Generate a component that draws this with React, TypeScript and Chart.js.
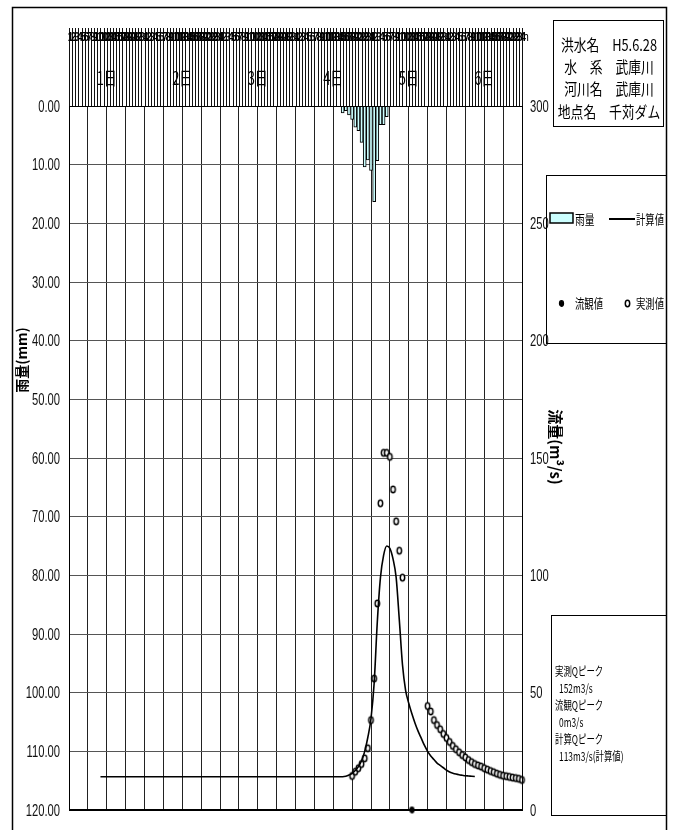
import React, { useEffect, useRef } from 'react';
import { Chart, registerables } from 'chart.js';
Chart.register(...registerables);

// ---- data ----
const rainHours = [87, 88, 89, 90, 91, 92, 93, 94, 95, 96, 97, 98, 99, 100, 101];
const rainMm = [1.2, 0.8, 1.5, 2.3, 3.6, 4.2, 6.2, 10.4, 9.2, 11.0, 16.3, 9.3, 3.2, 3.2, 1.8];

const calcHours = [10, 86, 87, 88, 89, 90, 91, 92, 93, 94, 95, 96, 97, 98, 99, 100, 101, 102, 103, 104, 105, 106, 107, 108, 109, 110, 111, 112, 113, 114, 115, 116, 117, 118, 119, 120, 121, 122, 123, 124, 125, 126, 127, 128, 129];
const calcQ = [14.2, 14.2, 14.2, 14.4, 14.9, 15.6, 16.8, 18.5, 21, 25, 31, 39, 54, 80, 99, 108.5, 112.5, 111.5, 107, 99, 81, 62, 51, 45.5, 41, 37, 33.5, 30.5, 27.5, 25, 23, 21.5, 20, 19, 18, 17, 16.2, 15.7, 15.3, 15, 14.8, 14.6, 14.5, 14.4, 14.3];

const obsHours = [90, 91, 92, 93, 94, 95, 96, 97, 98, 99, 100, 101, 102, 103, 104, 105, 106,
  114, 115, 116, 117, 118, 119, 120, 121, 122, 123, 124, 125, 126, 127, 128, 129, 130, 131, 132, 133, 134, 135, 136, 137, 138, 139, 140, 141, 142, 143, 144];
const obsQ = [14.5, 16.3, 17.8, 19.6, 22, 26.3, 38.3, 56, 88, 130.7, 152.2, 152.2, 150.5, 136.6, 123, 110.5, 99,
  44.3, 42, 38.3, 36.2, 34.4, 32.4, 30.7, 29, 27.3, 25.9, 24.6, 23.4, 22.4, 21.3, 20.4, 19.6, 19.0, 18.5, 17.8, 17.2, 16.6, 16.1, 15.5, 15.0, 14.6, 14.4, 14.1, 13.8, 13.6, 13.3, 12.8];

const ryukanHours = [109];
const ryukanQ = [0];

const dayLabels = ['1日', '2日', '3日', '4日', '5日', '6日'];
const infoLines = ['洪水名　H5.6.28', '水　系　武庫川', '河川名　武庫川', '地点名　千苅ダム'];
const peakLines = ['実測Qピーク', '  152m3/s', '流観Qピーク', '  0m3/s', '計算Qピーク', '  113m3/s(計算値)'];

const FONT_L = "'Liberation Sans',Arial,sans-serif";
const FONT_J = "'Noto Sans CJK JP','Noto Sans',sans-serif";

function makeEllipse(rx: number, ry: number, lw: number, fill: string, stroke: string) {
  const c = document.createElement('canvas');
  const w = Math.ceil(2 * rx + lw + 2) | 1;
  const h = Math.ceil(2 * ry + lw + 2) | 1;
  c.width = w; c.height = h;
  const g = c.getContext('2d')!;
  g.beginPath();
  g.ellipse(w / 2, h / 2, rx, ry, 0, 0, Math.PI * 2);
  g.fillStyle = fill; g.fill();
  g.lineWidth = lw; g.strokeStyle = stroke; g.stroke();
  return c;
}

function txt(ctx: CanvasRenderingContext2D, s: string, x: number, y: number, font: string, sx = 1, align: CanvasTextAlign = 'left', rot = 0, color = '#000') {
  ctx.save();
  ctx.translate(x, y);
  if (rot) ctx.rotate(rot);
  ctx.scale(sx, 1);
  ctx.font = font;
  ctx.textAlign = align;
  ctx.textBaseline = 'middle';
  ctx.fillStyle = color;
  ctx.fillText(s, 0, 0);
  ctx.restore();
}

export default function App() {
  const ref = useRef<HTMLCanvasElement>(null);
  useEffect(() => {
    const canvas = ref.current!;
    const openPt = makeEllipse(2.2, 3.2, 1.5, '#fff', '#000');
    const fillPt = makeEllipse(2.0, 2.8, 1.3, '#000', '#000');

    const decor = {
      id: 'decor',
      afterDraw(chart: any) {
        const ctx: CanvasRenderingContext2D = chart.ctx;
        const ca = chart.chartArea;
        const xs = chart.scales.x;
        const yr = chart.scales.yRain;
        const yf = chart.scales.yFlow;
        ctx.save();
        // header hourly lines
        ctx.strokeStyle = '#111';
        ctx.lineWidth = 1;
        for (let h = 0; h <= 144; h++) {
          const x = Math.round(xs.getPixelForValue(h)) + 0.5;
          ctx.beginPath(); ctx.moveTo(x, 28); ctx.lineTo(x, ca.top); ctx.stroke();
        }
        // hour labels
        for (let h = 1; h <= 144; h++) {
          const x = xs.getPixelForValue(h - 0.5);
          txt(ctx, String(((h - 1) % 24) + 1), x, 37, `bold 13px ${FONT_L}`, 0.75, 'center');
        }
        txt(ctx, 'h', ca.right + 1, 37, `13px ${FONT_L}`, 0.8, 'left');
        // day labels
        dayLabels.forEach((d, i) => {
          const x = xs.getPixelForValue(i * 24 + 12);
          txt(ctx, d, x, 78, `18px ${FONT_J}`, 0.72, 'center');
        });
        // tick labels (from the library's scales)
        yr.ticks.forEach((t: any) => {
          const y = yr.getPixelForValue(t.value);
          txt(ctx, Number(t.value).toFixed(2), ca.left - 9, y + 1, `17px ${FONT_L}`, 0.66, 'right', 0, '#111');
        });
        yf.ticks.forEach((t: any) => {
          const y = yf.getPixelForValue(t.value);
          txt(ctx, String(t.value), ca.right + 8, y + 1, `17px ${FONT_L}`, 0.66, 'left', 0, '#111');
        });
        // plot border
        ctx.lineWidth = 1;
        ctx.strokeStyle = '#000';
        ctx.strokeRect(Math.round(ca.left) + 0.5, Math.round(ca.top) + 0.5, Math.round(ca.right - ca.left), Math.round(ca.bottom - ca.top));
        ctx.lineWidth = 2;
        ctx.beginPath(); ctx.moveTo(ca.left, ca.bottom); ctx.lineTo(ca.right, ca.bottom); ctx.stroke();
        // outer border
        ctx.lineWidth = 1.5;
        ctx.beginPath();
        ctx.moveTo(12.5, 900); ctx.lineTo(12.5, 7.5); ctx.lineTo(666.5, 7.5); ctx.lineTo(666.5, 900);
        ctx.stroke();
        // axis titles
        txt(ctx, '雨量(mm)', 22, 360, `bold 14px ${FONT_J}`, 1, 'center', -Math.PI / 2);
        txt(ctx, '流量(m³/s)', 556, 447, `bold 15px ${FONT_J}`, 1, 'center', Math.PI / 2);
        // info box
        ctx.lineWidth = 1;
        ctx.strokeRect(553.5, 20.5, 110, 106);
        infoLines.forEach((s, i) => {
          txt(ctx, s, 609, 45 + i * 22.2, `16px ${FONT_J}`, 0.8, 'center');
        });
        // legend box
        ctx.strokeRect(546.5, 175.5, 120, 168);
        ctx.fillStyle = '#ccffff';
        ctx.fillRect(550, 213, 23, 10);
        ctx.lineWidth = 1.5;
        ctx.strokeStyle = '#000';
        ctx.strokeRect(550, 213, 23, 10);
        txt(ctx, '雨量', 575, 219, `13px ${FONT_J}`, 0.75, 'left');
        ctx.lineWidth = 2;
        ctx.beginPath(); ctx.moveTo(609, 219); ctx.lineTo(635, 219); ctx.stroke();
        txt(ctx, '計算値', 636, 219, `13px ${FONT_J}`, 0.72, 'left');
        ctx.drawImage(fillPt, Math.round(561 - fillPt.width / 2), Math.round(303 - fillPt.height / 2));
        txt(ctx, '流観値', 575, 303, `13px ${FONT_J}`, 0.72, 'left');
        ctx.drawImage(openPt, Math.round(627 - openPt.width / 2), Math.round(303 - openPt.height / 2));
        txt(ctx, '実測値', 636, 303, `13px ${FONT_J}`, 0.72, 'left');
        // peak box
        ctx.lineWidth = 1;
        ctx.strokeRect(551.5, 615.5, 115, 200);
        peakLines.forEach((s, i) => {
          const indent = s.startsWith('  ');
          txt(ctx, s.trim(), indent ? 559 : 555, 671 + i * 17.1, `12px ${FONT_J}`, 0.7, 'left');
        });
        ctx.restore();
      },
    };

    const chart = new Chart(canvas, {
      type: 'bar',
      data: {
        datasets: [
          {
            type: 'bar',
            label: '雨量',
            xAxisID: 'x',
            yAxisID: 'yRain',
            data: rainHours.map((h, i) => ({ x: h, y: rainMm[i] })),
            backgroundColor: '#ccffff',
            borderColor: '#000',
            borderWidth: 1,
            barThickness: 3,
            grouped: false,
          } as any,
          {
            type: 'line',
            label: '計算値',
            xAxisID: 'x',
            yAxisID: 'yFlow',
            data: calcHours.map((h, i) => ({ x: h, y: calcQ[i] })),
            borderColor: '#000',
            borderWidth: 1.6,
            pointRadius: 0,
            cubicInterpolationMode: 'monotone',
            fill: false,
          } as any,
          {
            type: 'line',
            label: '実測値',
            xAxisID: 'x',
            yAxisID: 'yFlow',
            data: obsHours.map((h, i) => ({ x: h, y: obsQ[i] })),
            showLine: false,
            pointStyle: openPt,
            pointRadius: 3,
            clip: false,
          } as any,
          {
            type: 'line',
            label: '流観値',
            xAxisID: 'x',
            yAxisID: 'yFlow',
            data: ryukanHours.map((h, i) => ({ x: h, y: ryukanQ[i] })),
            showLine: false,
            pointStyle: fillPt,
            pointRadius: 3,
            clip: false,
          } as any,
        ],
      },
      options: {
        responsive: false,
        animation: false,
        events: [],
        layout: { padding: { top: 106, bottom: 20, left: 0, right: 0 } },
        plugins: { legend: { display: false }, tooltip: { enabled: false }, title: { display: false } },
        scales: {
          x: {
            type: 'linear',
            min: 0,
            max: 144,
            offset: false,
            ticks: { stepSize: 6, display: false },
            grid: { color: '#222', lineWidth: 1, drawTicks: false, offset: false },
            border: { display: false },
            afterFit: (s: any) => { s.height = 0; },
          },
          yRain: {
            type: 'linear',
            position: 'left',
            reverse: true,
            min: 0,
            max: 120,
            ticks: { stepSize: 10, display: false },
            grid: { color: '#555', lineWidth: 1, drawTicks: false },
            border: { display: false },
            afterFit: (s: any) => { s.width = 69; },
          },
          yFlow: {
            type: 'linear',
            position: 'right',
            min: 0,
            max: 300,
            ticks: { stepSize: 50, display: false },
            grid: { display: false, drawTicks: false },
            border: { display: false },
            afterFit: (s: any) => { s.width = 155; },
          },
        },
      } as any,
      plugins: [decor],
    });
    return () => chart.destroy();
  }, []);

  return (
    <div style={{ position: 'absolute', left: 0, top: 0, width: 677, height: 830, background: '#fff' }}>
      <canvas ref={ref} width={677} height={830} style={{ display: 'block', width: 677, height: 830 }} />
    </div>
  );
}
